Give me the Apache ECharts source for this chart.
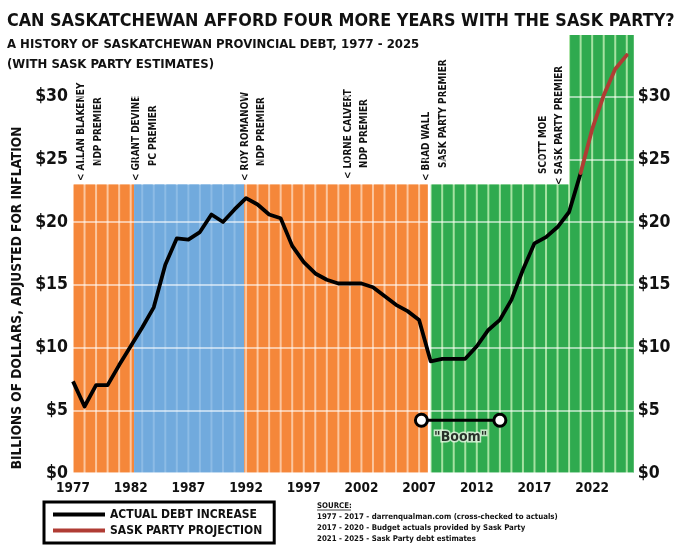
<!DOCTYPE html>
<html>
<head>
<meta charset="utf-8">
<style>
html,body{margin:0;padding:0;background:#fff;}
#chart{width:680px;height:550px;}
</style>
<script src="https://cdn.jsdelivr.net/npm/echarts@6.0.0/dist/echarts.min.js"></script>
</head>
<body>
<div id="chart"></div>
<script>
// ---------------- DATA ----------------
const actualYears = [1977,1978,1979,1980,1981,1982,1983,1984,1985,1986,
                     1987,1988,1989,1990,1991,1992,1993,1994,1995,1996,
                     1997,1998,1999,2000,2001,2002,2003,2004,2005,2006,
                     2007,2008,2009,2010,2011,2012,2013,2014,2015,2016,
                     2017,2018,2019,2020,2021];
const actualDebt = [7.3,5.3,7.0,7.0,8.6,10.1,11.6,13.2,16.6,18.7,
                    18.6,19.2,20.6,20.0,21.0,21.9,21.4,20.6,20.3,18.1,
                    16.8,15.9,15.4,15.1,15.1,15.1,14.8,14.1,13.4,12.9,
                    12.2,8.9,9.1,9.1,9.1,10.1,11.4,12.2,13.8,16.2,
                    18.3,18.8,19.6,20.8,23.9];
const projectionYears = [2021,2022,2023,2024,2025];
const projectionDebt = [23.9,27.4,30.1,32.2,33.3];

const xTickYears = [1977,1982,1987,1992,1997,2002,2007,2012,2017,2022];
const yTickValues = [0,5,10,15,20,25,30];

// premier eras (background columns)
const regionStart = [1977, 1982.3, 1991.85, 2008, 2020];
const regionEnd   = [1982.3, 1991.85, 2007.75, 2020, 2025.6];
const regionTop   = [23, 23, 23, 23, 34.9];
const regionParty = ['NDP', 'PC', 'NDP', 'SP', 'SP'];

const boomYears = [2007.2, 2014.0];
const boomLevel = [4.2, 4.2];
const boomText = '"Boom"';

const premierLine1 = ['< ALLAN BLAKENEY', '< GRANT DEVINE', '< ROY ROMANOW', '< LORNE CALVERT', '< BRAD WALL', 'SCOTT MOE'];
const premierLine2 = ['NDP PREMIER', 'PC PREMIER', 'NDP PREMIER', 'NDP PREMIER', 'SASK PARTY PREMIER', '< SASK PARTY PREMIER'];

const titleText = 'CAN SASKATCHEWAN AFFORD FOUR MORE YEARS WITH THE SASK PARTY?';
const subtitleLines = ['A HISTORY OF SASKATCHEWAN PROVINCIAL DEBT, 1977 - 2025', '(WITH SASK PARTY ESTIMATES)'];
const yAxisTitle = 'BILLIONS OF DOLLARS, ADJUSTED FOR INFLATION';
const sourceHeading = 'SOURCE:';
const sourceLines = ['1977 - 2017 - darrenqualman.com (cross-checked to actuals)',
                     '2017 - 2020 - Budget actuals provided by Sask Party',
                     '2021 - 2025 - Sask Party debt estimates'];
const seriesNames = ['ACTUAL DEBT INCREASE', 'SASK PARTY PROJECTION'];

// ---------------- STYLE / LAYOUT ----------------
const FONT = "'DejaVu Sans Condensed', 'DejaVu Sans', sans-serif";
const PARTY_FILL = { NDP: '#f5873a', PC: '#71aadd', SP: '#2faa4f' };
const PARTY_STRIPE = { NDP: '#fbc69f', PC: '#8cbbe5', SP: '#a6e2a2' };
const STRIPE_HALF = 1;
const INK = '#111';

const premierX1 = [81.7, 136.7, 245, 348.3, 426.7, 543.3];
const premierGap = 16.5;
const premierB1 = [181, 181, 181, 179, 181, 174];
const premierB2 = [166, 166, 166, 168, 168, 185];

const chart = echarts.init(document.getElementById('chart'), null, { renderer: 'canvas' });

const regionData = regionStart.map((s, i) => [s, regionEnd[i], regionTop[i], i]);

function renderRegion(params, api) {
  const s = api.value(0), e = api.value(1), top = api.value(2), idx = api.value(3);
  const party = regionParty[idx];
  const fill = PARTY_FILL[party], stripe = PARTY_STRIPE[party];
  const b0 = api.coord([s, 0]), t1 = api.coord([e, top]);
  const children = [{
    type: 'rect',
    shape: { x: b0[0], y: t1[1], width: t1[0] - b0[0], height: b0[1] - t1[1] },
    style: { fill: stripe }
  }];
  for (let yr = Math.floor(s); yr < e; yr++) {
    const a = Math.max(yr, s), b = Math.min(yr + 1, e);
    const pa = api.coord([a, 0]), pb = api.coord([b, top]);
    const l = pa[0] + (a === yr ? STRIPE_HALF : 0);
    const r = pb[0] - (b === yr + 1 ? STRIPE_HALF : 0);
    if (r > l) {
      children.push({
        type: 'rect',
        shape: { x: l, y: pb[1], width: r - l, height: pa[1] - pb[1] },
        style: { fill: fill }
      });
    }
  }
  return { type: 'group', children: children };
}

const yLabelStyle = { fontFamily: FONT, fontWeight: 'bold', fontSize: 17.5, color: INK };

const graphics = [];
graphics.push({ type: 'text', x: 7, y: 21.5, style: { text: titleText, fontFamily: FONT, fontWeight: 'bold', fontSize: 17.8, fill: INK, align: 'left', verticalAlign: 'middle' } });
graphics.push({ type: 'text', x: 7, y: 44.5, style: { text: subtitleLines[0], fontFamily: FONT, fontWeight: 'bold', fontSize: 13, fill: INK, align: 'left', verticalAlign: 'middle' } });
graphics.push({ type: 'text', x: 7, y: 64.5, style: { text: subtitleLines[1], fontFamily: FONT, fontWeight: 'bold', fontSize: 13, fill: INK, align: 'left', verticalAlign: 'middle' } });
graphics.push({ type: 'text', x: 17.5, y: 298, rotation: Math.PI / 2, style: { text: yAxisTitle, fontFamily: FONT, fontWeight: 'bold', fontSize: 13.6, fill: INK, align: 'center', verticalAlign: 'middle' } });
premierLine1.forEach((t, i) => {
  graphics.push({ type: 'text', x: premierX1[i], y: premierB1[i], rotation: Math.PI / 2, style: { text: t, fontFamily: FONT, fontWeight: 'bold', fontSize: 9.9, fill: INK, align: 'left', verticalAlign: 'middle' } });
  graphics.push({ type: 'text', x: premierX1[i] + premierGap, y: premierB2[i], rotation: Math.PI / 2, style: { text: premierLine2[i], fontFamily: FONT, fontWeight: 'bold', fontSize: 9.9, fill: INK, align: 'left', verticalAlign: 'middle' } });
});
graphics.push({ type: 'text', x: 317, y: 505.7, style: { text: sourceHeading, fontFamily: FONT, fontWeight: 'bold', fontSize: 7.8, fill: INK, align: 'left', verticalAlign: 'middle' } });
graphics.push({ type: 'line', shape: { x1: 317, y1: 510, x2: 351, y2: 510 }, style: { stroke: INK, lineWidth: 0.8 } });
sourceLines.forEach((t, i) => {
  graphics.push({ type: 'text', x: 317, y: 517.3 + i * 10.6, style: { text: t, fontFamily: FONT, fontWeight: 'bold', fontSize: 7.8, fill: INK, align: 'left', verticalAlign: 'middle' } });
});

const option = {
  animation: false,
  backgroundColor: '#fff',
  grid: { left: 73, right: 46.3, top: 33.8, bottom: 77, containLabel: false },
  xAxis: {
    type: 'value', min: 1977, max: 2025.6, interval: 5,
    axisLine: { show: false }, axisTick: { show: false }, splitLine: { show: false },
    axisLabel: {
      margin: 8, fontFamily: FONT, fontWeight: 'bold', fontSize: 13.5, color: INK,
      formatter: v => xTickYears.includes(v) ? String(v) : ''
    }
  },
  yAxis: [
    {
      type: 'value', min: 0, max: 35, interval: 5, position: 'left', z: 10,
      axisLine: { show: false }, axisTick: { show: false },
      axisLabel: Object.assign({ margin: 5, formatter: v => yTickValues.includes(v) ? '$' + v : '' }, yLabelStyle),
      splitLine: { show: true, lineStyle: { color: 'rgba(255,255,255,0.55)', width: 2 } }
    },
    {
      type: 'value', min: 0, max: 35, interval: 5, position: 'right', z: 10,
      axisLine: { show: false }, axisTick: { show: false },
      axisLabel: Object.assign({ margin: 4, formatter: v => yTickValues.includes(v) ? '$' + v : '' }, yLabelStyle),
      splitLine: { show: false }
    }
  ],
  legend: {
    data: seriesNames,
    orient: 'vertical', left: 44, top: 502,
    borderColor: '#000', borderWidth: 3, padding: [5, 12, 5, 9],
    itemWidth: 52, itemHeight: 4, itemGap: 1, icon: 'rect',
    selectedMode: false,
    textStyle: { fontFamily: FONT, fontWeight: 'bold', fontSize: 12, color: INK, lineHeight: 15 }
  },
  graphic: graphics,
  series: [
    {
      type: 'custom', z: 1, silent: true,
      renderItem: renderRegion,
      encode: { x: [0, 1], y: 2 },
      data: regionData
    },
    {
      name: seriesNames[0], type: 'line', z: 20, symbol: 'none', color: '#000',
      lineStyle: { width: 3.8, color: '#000', join: 'round' },
      data: actualYears.map((y, i) => [y, actualDebt[i]])
    },
    {
      name: seriesNames[1], type: 'line', z: 21, symbol: 'none', color: '#b03c34',
      lineStyle: { width: 3.8, color: '#b03c34', join: 'round', cap: 'round' },
      data: projectionYears.map((y, i) => [y, projectionDebt[i]])
    },
    {
      type: 'line', z: 22, silent: true, symbol: 'circle', symbolSize: 12, showSymbol: true,
      lineStyle: { color: '#000', width: 3 },
      itemStyle: { color: '#fff', borderColor: '#000', borderWidth: 3 },
      data: boomYears.map((y, i) => [y, boomLevel[i]])
    },
    {
      type: 'scatter', z: 22, silent: true, symbolSize: 0,
      label: {
        show: true, position: 'bottom', distance: 10, formatter: boomText,
        fontFamily: FONT, fontWeight: 'bold', fontSize: 14, color: '#000',
        textBorderColor: '#eaf7e6', textBorderWidth: 3
      },
      data: [[(boomYears[0] + boomYears[1]) / 2, boomLevel[0]]]
    }
  ]
};
chart.setOption(option);
</script>
</body>
</html>
